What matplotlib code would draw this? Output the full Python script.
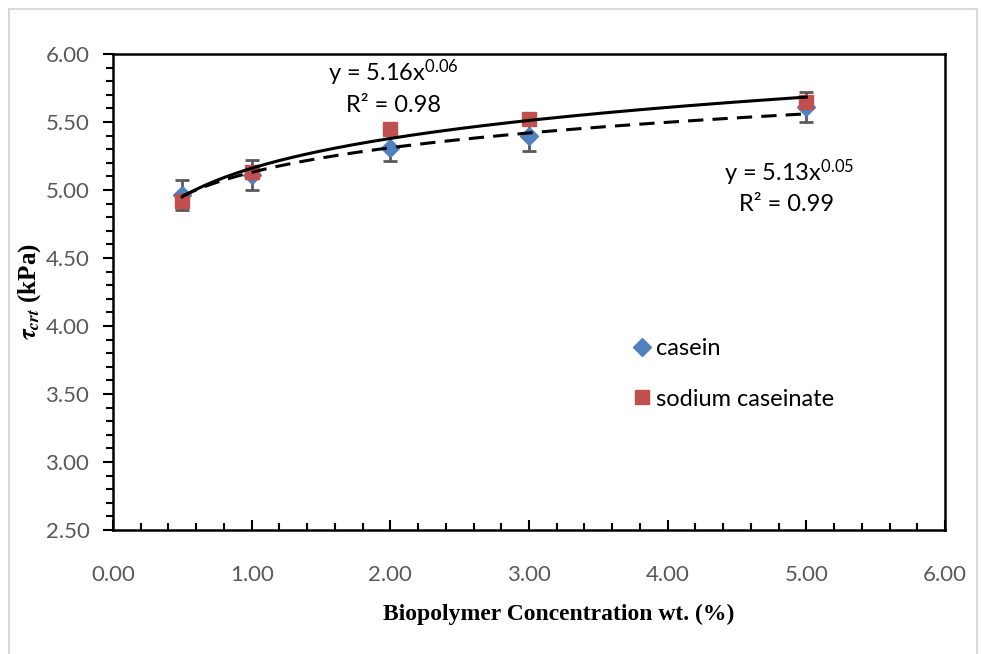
import numpy as np
import matplotlib
matplotlib.use("Agg")
import matplotlib.pyplot as plt
from matplotlib.patches import Rectangle
from matplotlib.lines import Line2D
from matplotlib.ticker import MultipleLocator, FormatStrFormatter

plt.rcParams['font.family'] = ['Lato', 'DejaVu Sans']
plt.rcParams['mathtext.fontset'] = 'stix'

# data
conc = [0.5, 1.0, 2.0, 3.0, 5.0]
casein = [4.96, 5.11, 5.31, 5.40, 5.61]
casein_err = [0.11, 0.11, 0.10, 0.11, 0.11]
sodium = [4.92, 5.13, 5.45, 5.52, 5.65]

# power trendlines y = a x^b as printed on the chart
fit_sodium = (5.16, 0.06)
fit_casein = (5.13, 0.05)
eq_sodium = [r"y = 5.16x$^{\mathregular{0.06}}$", "R² = 0.98"]
eq_casein = [r"y = 5.13x$^{\mathregular{0.05}}$", "R² = 0.99"]

fig = plt.figure(figsize=(9.81, 6.54), dpi=100)
fig.patches.append(Rectangle((9 / 981, -0.01), 968 / 981, 1 - 9 / 654 + 0.01,
                             transform=fig.transFigure, fill=False,
                             edgecolor='#d9d9d9', linewidth=1.5))
ax = fig.add_axes([113 / 981, 1 - 530 / 654, (945 - 113) / 981, (530 - 54) / 654])

xs = np.linspace(0.5, 5.0, 200)
ax.plot(xs, fit_sodium[0] * xs ** fit_sodium[1], color='black', lw=2.2, zorder=5)
ax.plot(xs, fit_casein[0] * xs ** fit_casein[1], color='black', lw=2.2,
        ls=(0, (5, 3)), zorder=5)

ax.errorbar(conc, casein, yerr=casein_err, fmt='D', color='#4f81bd', ms=9,
            ecolor='#595959', elinewidth=2, capsize=5, capthick=2, zorder=3)
ax.plot(conc, sodium, 's', color='#c0504d', ms=10, zorder=4)

ax.set_xlim(0, 6)
ax.set_ylim(2.5, 6)
ax.xaxis.set_major_locator(MultipleLocator(1))
ax.xaxis.set_minor_locator(MultipleLocator(0.2))
ax.yaxis.set_major_locator(MultipleLocator(0.5))
ax.yaxis.set_minor_locator(MultipleLocator(0.1))
ax.xaxis.set_major_formatter(FormatStrFormatter('%.2f'))
ax.yaxis.set_major_formatter(FormatStrFormatter('%.2f'))
ax.tick_params(axis='x', which='major', direction='in', length=7, width=1.5,
               labelsize=16, labelcolor='#595959', pad=25)
ax.tick_params(axis='x', which='minor', direction='in', length=5, width=1.5)
ax.tick_params(axis='y', which='major', direction='out', length=7, width=1.5,
               labelsize=16, labelcolor='#595959', pad=10)
ax.tick_params(axis='y', which='minor', direction='out', length=5, width=1.5)
for s in ax.spines.values():
    s.set_linewidth(1.8)

ax.set_xlabel('Biopolymer Concentration wt. (%)', family='Liberation Serif',
              fontweight='bold', fontsize=17)
ax.xaxis.set_label_coords(0.536, -0.155)
ax.set_ylabel(r'$\boldsymbol{\tau}_{\boldsymbol{crt}}$ (kPa)', family='Liberation Serif',
              fontweight='bold', fontsize=18, labelpad=2)

ax.text(2.02, 5.86, eq_sodium[0], ha='center', va='center', fontsize=17)
ax.text(2.02, 5.62, eq_sodium[1], ha='center', va='center', fontsize=17)
ax.text(4.88, 5.13, eq_casein[0], ha='center', va='center', fontsize=17)
ax.text(4.86, 4.89, eq_casein[1], ha='center', va='center', fontsize=17)

handles = [Line2D([], [], ls='none', marker='D', color='#4f81bd', ms=9),
           Line2D([], [], ls='none', marker='s', color='#c0504d', ms=10)]
ax.legend(handles, ['casein', 'sodium caseinate'], loc='upper left',
          bbox_to_anchor=(0.596, 0.448), frameon=False, fontsize=17,
          handletextpad=0.1, labelspacing=1.25, handlelength=1.0)

fig.savefig('out.png', dpi=100)
